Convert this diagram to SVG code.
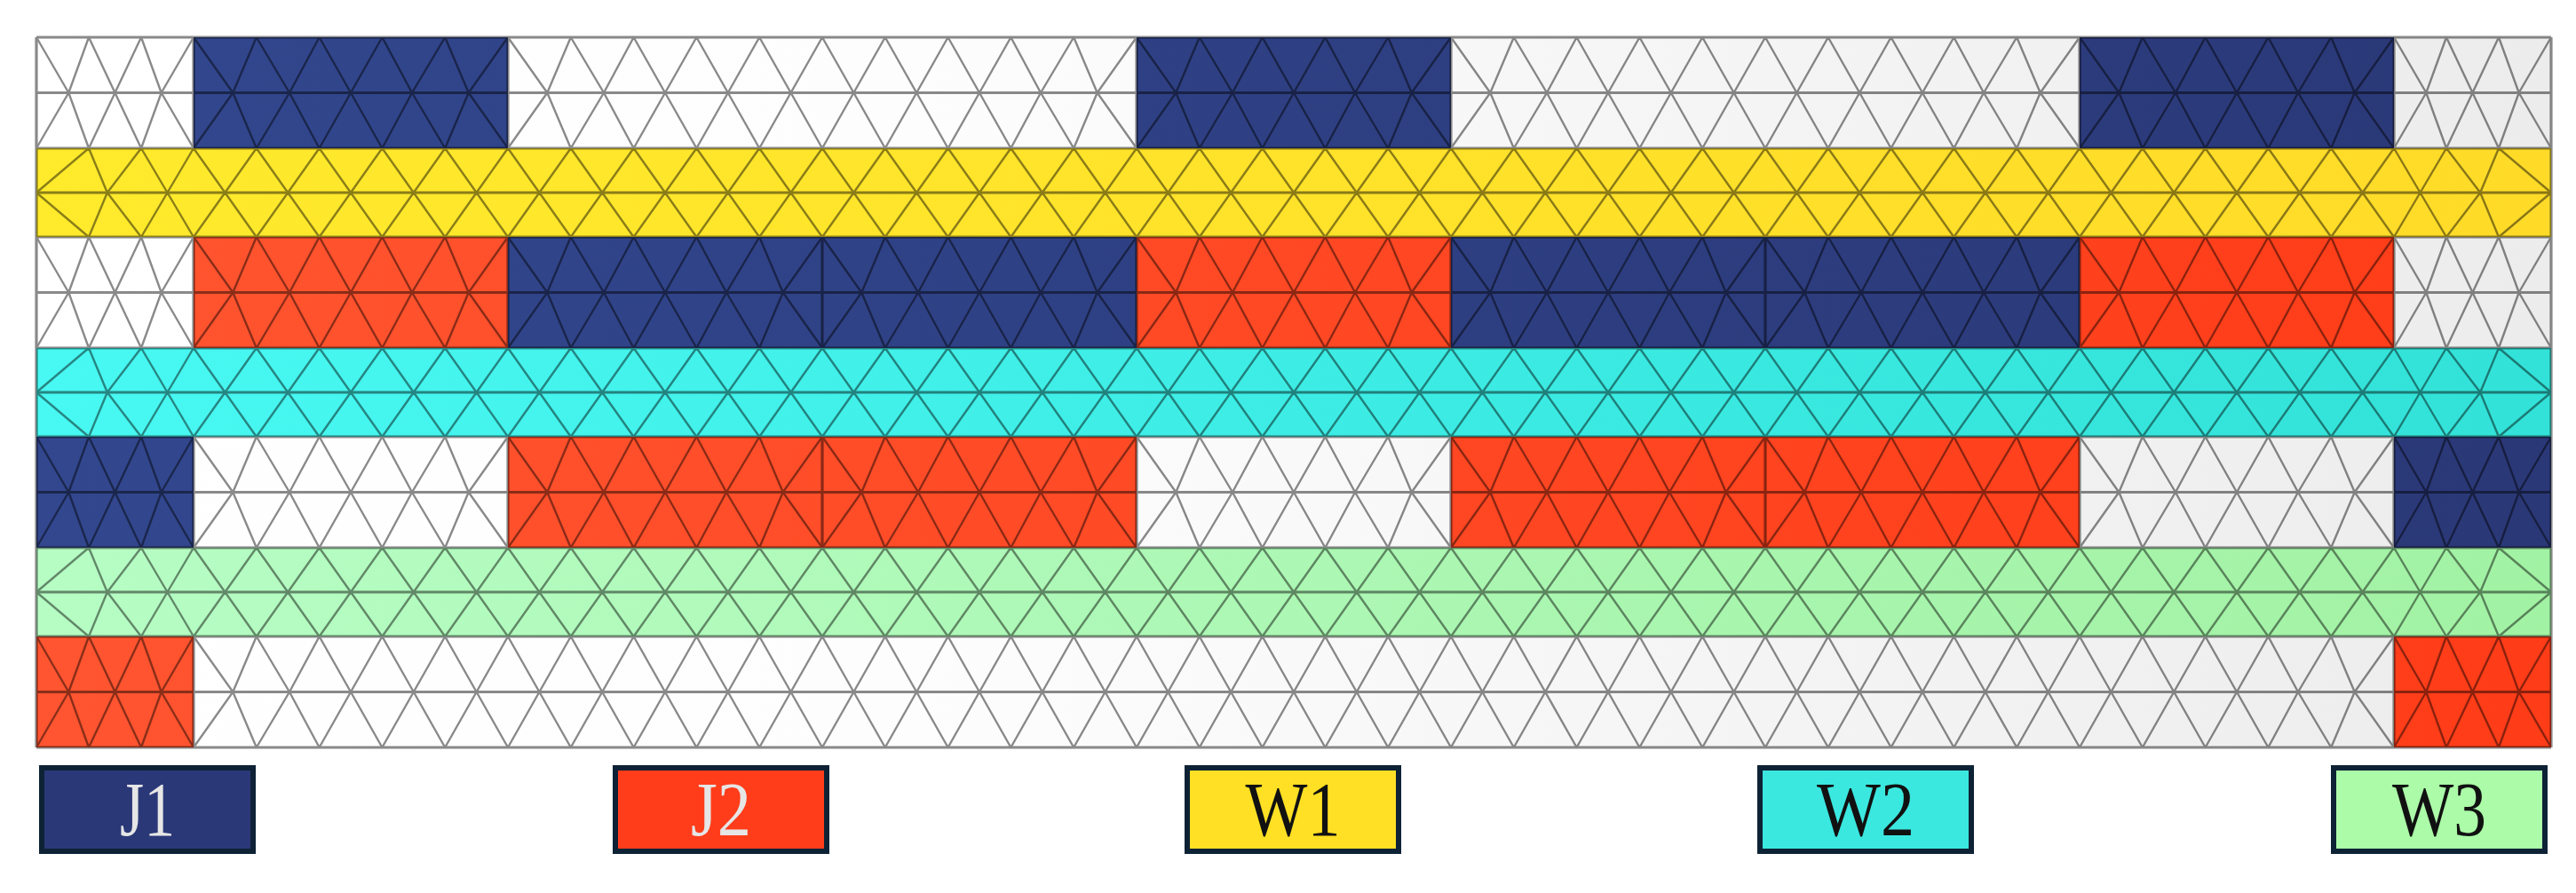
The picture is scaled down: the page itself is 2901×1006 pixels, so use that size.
<svg xmlns="http://www.w3.org/2000/svg" xmlns:xlink="http://www.w3.org/1999/xlink" width="2901" height="1006" viewBox="0 0 2901 1006">
<style>
.z{fill:none;stroke:#000;stroke-width:2.4;stroke-linejoin:round}
.hl{fill:none;stroke:#000;stroke-width:3.2}
.lbl{font-family:"Liberation Serif","Times New Roman",serif;font-size:86px;text-anchor:middle}
.box{stroke:#0E2235;stroke-width:6}
</style>
<defs>
<linearGradient id="gW" gradientUnits="userSpaceOnUse" x1="41" y1="0" x2="2873" y2="0"><stop offset="0" stop-color="#FFFFFF"/><stop offset="0.35" stop-color="#FDFDFD"/><stop offset="1" stop-color="#ECECEC"/></linearGradient>
<linearGradient id="gB" gradientUnits="userSpaceOnUse" x1="41" y1="0" x2="2873" y2="0"><stop offset="0" stop-color="#32478E"/><stop offset="1" stop-color="#2A3877"/></linearGradient>
<linearGradient id="gR" gradientUnits="userSpaceOnUse" x1="41" y1="0" x2="2873" y2="0"><stop offset="0" stop-color="#FF5530"/><stop offset="1" stop-color="#FF3C18"/></linearGradient>
<linearGradient id="gY" gradientUnits="userSpaceOnUse" x1="41" y1="0" x2="2873" y2="0"><stop offset="0" stop-color="#FFEA2C"/><stop offset="1" stop-color="#FFDB28"/></linearGradient>
<linearGradient id="gC" gradientUnits="userSpaceOnUse" x1="41" y1="0" x2="2873" y2="0"><stop offset="0" stop-color="#48F8F2"/><stop offset="1" stop-color="#32E2D8"/></linearGradient>
<linearGradient id="gG" gradientUnits="userSpaceOnUse" x1="41" y1="0" x2="2873" y2="0"><stop offset="0" stop-color="#B6FDC4"/><stop offset="1" stop-color="#A2F2A4"/></linearGradient>
<path id="z3" class="z" d="M0,0L36.3,62.5L59,0L88.5,62.5L118,0L140.7,62.5L177,0"/>
<path id="z5" class="z" d="M0,0l44.3,62.5 26.5,-62.5 37.2,62.5 33.6,-62.5
35.4,62.5 35.4,-62.5
33.6,62.5 37.2,-62.5 26.5,62.5 44.3,-62.5"/>
<path id="z10" class="z" d="M0,0l44.3,62.5 26.5,-62.5 37.2,62.5 33.6,-62.5
35.4,62.5 35.4,-62.5 35.4,62.5 35.4,-62.5 35.4,62.5 35.4,-62.5 35.4,62.5 35.4,-62.5 35.4,62.5 35.4,-62.5
35.4,62.5 35.4,-62.5
33.6,62.5 37.2,-62.5 26.5,62.5 44.3,-62.5"/>
<path id="z35" class="z" d="M0,0l44.3,62.5 26.5,-62.5 37.2,62.5 33.6,-62.5
35.4,62.5 35.4,-62.5 35.4,62.5 35.4,-62.5 35.4,62.5 35.4,-62.5 35.4,62.5 35.4,-62.5 35.4,62.5 35.4,-62.5
35.4,62.5 35.4,-62.5 35.4,62.5 35.4,-62.5 35.4,62.5 35.4,-62.5 35.4,62.5 35.4,-62.5 35.4,62.5 35.4,-62.5
35.4,62.5 35.4,-62.5 35.4,62.5 35.4,-62.5 35.4,62.5 35.4,-62.5 35.4,62.5 35.4,-62.5 35.4,62.5 35.4,-62.5
35.4,62.5 35.4,-62.5 35.4,62.5 35.4,-62.5 35.4,62.5 35.4,-62.5 35.4,62.5 35.4,-62.5 35.4,62.5 35.4,-62.5
35.4,62.5 35.4,-62.5 35.4,62.5 35.4,-62.5 35.4,62.5 35.4,-62.5 35.4,62.5 35.4,-62.5 35.4,62.5 35.4,-62.5
35.4,62.5 35.4,-62.5 35.4,62.5 35.4,-62.5 35.4,62.5 35.4,-62.5 35.4,62.5 35.4,-62.5 35.4,62.5 35.4,-62.5
35.4,62.5 35.4,-62.5
33.6,62.5 37.2,-62.5 26.5,62.5 44.3,-62.5"/>
<path id="bz" class="z" d="M41,50L100,0L120.8,50L159,0L188.5,50L218,0l
35.4,50 35.4,-50 35.4,50 35.4,-50 35.4,50 35.4,-50 35.4,50 35.4,-50 35.4,50 35.4,-50
35.4,50 35.4,-50 35.4,50 35.4,-50 35.4,50 35.4,-50 35.4,50 35.4,-50 35.4,50 35.4,-50
35.4,50 35.4,-50 35.4,50 35.4,-50 35.4,50 35.4,-50 35.4,50 35.4,-50 35.4,50 35.4,-50
35.4,50 35.4,-50 35.4,50 35.4,-50 35.4,50 35.4,-50 35.4,50 35.4,-50 35.4,50 35.4,-50
35.4,50 35.4,-50 35.4,50 35.4,-50 35.4,50 35.4,-50 35.4,50 35.4,-50 35.4,50 35.4,-50
35.4,50 35.4,-50 35.4,50 35.4,-50 35.4,50 35.4,-50 35.4,50 35.4,-50 35.4,50 35.4,-50
35.4,50 35.4,-50 35.4,50 35.4,-50 35.4,50 35.4,-50 35.4,50 35.4,-50 35.4,50 35.4,-50
L2725.5,50L2755,0L2793.2,50L2814,0L2873,50"/>
<g id="band">
<use href="#bz"/>
<use href="#bz" transform="translate(0,100) scale(1,-1)"/>
</g>
<g id="m1">
<use href="#z3" transform="translate(41,0)"/><use href="#z3" transform="translate(41,125) scale(1,-1)"/>
<use href="#z5" transform="translate(218,0)"/><use href="#z5" transform="translate(218,125) scale(1,-1)"/>
<use href="#z10" transform="translate(572,0)"/><use href="#z10" transform="translate(572,125) scale(1,-1)"/>
<use href="#z5" transform="translate(1280,0)"/><use href="#z5" transform="translate(1280,125) scale(1,-1)"/>
<use href="#z10" transform="translate(1634,0)"/><use href="#z10" transform="translate(1634,125) scale(1,-1)"/>
<use href="#z5" transform="translate(2342,0)"/><use href="#z5" transform="translate(2342,125) scale(1,-1)"/>
<use href="#z3" transform="translate(2696,0)"/><use href="#z3" transform="translate(2696,125) scale(1,-1)"/>
<path class="hl" d="M218,0V125M572,0V125M1280,0V125M1634,0V125M2342,0V125M2696,0V125"/>
</g>
<g id="m35">
<use href="#z3" transform="translate(41,0)"/><use href="#z3" transform="translate(41,125) scale(1,-1)"/>
<use href="#z5" transform="translate(218,0)"/><use href="#z5" transform="translate(218,125) scale(1,-1)"/>
<use href="#z5" transform="translate(572,0)"/><use href="#z5" transform="translate(572,125) scale(1,-1)"/>
<use href="#z5" transform="translate(926,0)"/><use href="#z5" transform="translate(926,125) scale(1,-1)"/>
<use href="#z5" transform="translate(1280,0)"/><use href="#z5" transform="translate(1280,125) scale(1,-1)"/>
<use href="#z5" transform="translate(1634,0)"/><use href="#z5" transform="translate(1634,125) scale(1,-1)"/>
<use href="#z5" transform="translate(1988,0)"/><use href="#z5" transform="translate(1988,125) scale(1,-1)"/>
<use href="#z5" transform="translate(2342,0)"/><use href="#z5" transform="translate(2342,125) scale(1,-1)"/>
<use href="#z3" transform="translate(2696,0)"/><use href="#z3" transform="translate(2696,125) scale(1,-1)"/>
<path class="hl" d="M218,0V125M572,0V125M926,0V125M1280,0V125M1634,0V125M1988,0V125M2342,0V125M2696,0V125"/>
</g>
<g id="m7">
<use href="#z3" transform="translate(41,0)"/><use href="#z3" transform="translate(41,125) scale(1,-1)"/>
<use href="#z35" transform="translate(218,0)"/><use href="#z35" transform="translate(218,125) scale(1,-1)"/>
<use href="#z3" transform="translate(2696,0)"/><use href="#z3" transform="translate(2696,125) scale(1,-1)"/>
<path class="hl" d="M218,0V125M2696,0V125"/>
</g>
</defs>
<rect width="2901" height="1006" fill="#FFFFFF"/>
<g id="row1">
<rect x="41" y="42" width="177" height="125" fill="url(#gW)"/>
<rect x="218" y="42" width="354" height="125" fill="url(#gB)"/>
<rect x="572" y="42" width="708" height="125" fill="url(#gW)"/>
<rect x="1280" y="42" width="354" height="125" fill="url(#gB)"/>
<rect x="1634" y="42" width="708" height="125" fill="url(#gW)"/>
<rect x="2342" y="42" width="354" height="125" fill="url(#gB)"/>
<rect x="2696" y="42" width="177" height="125" fill="url(#gW)"/>
</g>
<g id="band-W1"><rect x="41" y="167" width="2832" height="100" fill="url(#gY)"/></g>
<g id="row3">
<rect x="41" y="267" width="177" height="125" fill="url(#gW)"/>
<rect x="218" y="267" width="354" height="125" fill="url(#gR)"/>
<rect x="572" y="267" width="708" height="125" fill="url(#gB)"/>
<rect x="1280" y="267" width="354" height="125" fill="url(#gR)"/>
<rect x="1634" y="267" width="708" height="125" fill="url(#gB)"/>
<rect x="2342" y="267" width="354" height="125" fill="url(#gR)"/>
<rect x="2696" y="267" width="177" height="125" fill="url(#gW)"/>
</g>
<g id="band-W2"><rect x="41" y="392" width="2832" height="100" fill="url(#gC)"/></g>
<g id="row5">
<rect x="41" y="492" width="177" height="125" fill="url(#gB)"/>
<rect x="218" y="492" width="354" height="125" fill="url(#gW)"/>
<rect x="572" y="492" width="708" height="125" fill="url(#gR)"/>
<rect x="1280" y="492" width="354" height="125" fill="url(#gW)"/>
<rect x="1634" y="492" width="708" height="125" fill="url(#gR)"/>
<rect x="2342" y="492" width="354" height="125" fill="url(#gW)"/>
<rect x="2696" y="492" width="177" height="125" fill="url(#gB)"/>
</g>
<g id="band-W3"><rect x="41" y="617" width="2832" height="100" fill="url(#gG)"/></g>
<g id="row7">
<rect x="41" y="717" width="177" height="125" fill="url(#gR)"/>
<rect x="218" y="717" width="2478" height="125" fill="url(#gW)"/>
<rect x="2696" y="717" width="177" height="125" fill="url(#gR)"/>
</g>
<g id="mesh" opacity="0.46">
<use href="#m1" transform="translate(0,42)"/>
<use href="#band" transform="translate(0,167)"/>
<use href="#m35" transform="translate(0,267)"/>
<use href="#band" transform="translate(0,392)"/>
<use href="#m35" transform="translate(0,492)"/>
<use href="#band" transform="translate(0,617)"/>
<use href="#m7" transform="translate(0,717)"/>
<path class="hl" d="M41,42H2873M41,104.5H2873M41,167H2873M41,217H2873M41,267H2873M41,329.5H2873M41,392H2873M41,442H2873M41,492H2873M41,554.5H2873M41,617H2873M41,667H2873M41,717H2873M41,779.5H2873M41,842H2873M41,42V842M2873,42V842"/>
</g>
<g id="legend">
<g id="legend-J1"><rect class="box" x="47" y="865" width="238" height="94" fill="#2B3878"/><text class="lbl" x="166" y="941" fill="#E6E6E6" textLength="62" lengthAdjust="spacingAndGlyphs">J1</text></g>
<g id="legend-J2"><rect class="box" x="693" y="865" width="238" height="94" fill="#FF3D1A"/><text class="lbl" x="812" y="941" fill="#E6E6E6" textLength="68" lengthAdjust="spacingAndGlyphs">J2</text></g>
<g id="legend-W1"><rect class="box" x="1337" y="865" width="238" height="94" fill="#FFE024"/><text class="lbl" x="1456" y="941" fill="#111111" textLength="107" lengthAdjust="spacingAndGlyphs">W1</text></g>
<g id="legend-W2"><rect class="box" x="1982" y="865" width="238" height="94" fill="#3BE8E0"/><text class="lbl" x="2101" y="941" fill="#111111" textLength="110" lengthAdjust="spacingAndGlyphs">W2</text></g>
<g id="legend-W3"><rect class="box" x="2628" y="865" width="238" height="94" fill="#ABFBA8"/><text class="lbl" x="2747" y="941" fill="#111111" textLength="106" lengthAdjust="spacingAndGlyphs">W3</text></g>
</g>
</svg>
